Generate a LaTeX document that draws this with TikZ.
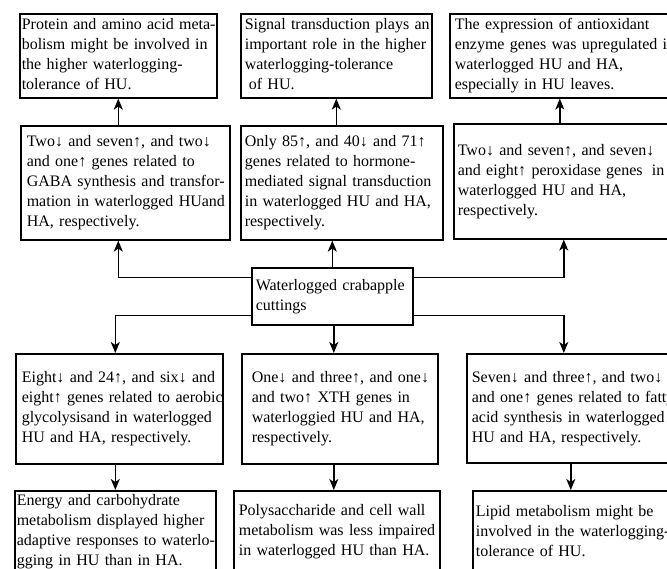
\documentclass[tikz,border=0pt]{standalone}
\usepackage{fontspec}
\setmainfont{Liberation Serif}
\usetikzlibrary{arrows.meta,calc}
\newcommand\tx[1]{\begin{tabular}{@{}l@{}}#1\end{tabular}}
\tikzset{
  bx/.style={draw, line width=1.6pt, rectangle, anchor=north west, align=left,
    inner ysep=0pt, font=\fontsize{16}{20}\selectfont},
  arr/.style={line width=1.4pt, -{Stealth[length=11pt,width=9pt,inset=3pt]}}
}
\begin{document}
\begin{tikzpicture}[x=1pt,y=-1pt]
\useasboundingbox (0,0) rectangle (667,569);
\clip (0,0) rectangle (667,569);
% top row
\node[bx, inner xsep=2pt, text width=193pt, minimum height=84pt] (box1) at (19,13)
  {\tx{Protein and amino acid meta-\\bolism might be involved in\\the higher waterlogging-\\tolerance of HU.}};
\node[bx, inner xsep=4pt, text width=183pt, minimum height=84pt] (box2) at (240,13)
  {\tx{Signal transduction plays an\\important role in the higher\\waterlogging-tolerance\\\hspace{4pt}of HU.}};
\node[bx, inner xsep=5pt, text width=210pt, minimum height=84pt] (box3) at (449,13)
  {\tx{The expression of antioxidant\\enzyme genes was upregulated in\\waterlogged HU and HA,\\especially in HU leaves.}};
% second row
\node[bx, inner xsep=6pt, text width=197pt, minimum height=114pt] (box4) at (20,125)
  {\tx{Two↓ and seven↑, and two↓\\and one↑ genes related to\\GABA synthesis and transfor-\\mation in waterlogged HUand\\HA, respectively.}};
\node[bx, inner xsep=4pt, text width=194pt, minimum height=114pt] (box5) at (240,125)
  {\tx{Only 85↑, and 40↓ and 71↑\\genes related to hormone-\\mediated signal transduction\\in waterlogged HU and HA,\\respectively.}};
\node[bx, inner xsep=4pt, text width=212pt, minimum height=115pt] (box6) at (453,123)
  {\tx{Two↓ and seven↑, and seven↓\\and eight↑ peroxidase genes\hspace{4pt} in\\waterlogged HU and HA,\\respectively.}};
% centre
\node[bx, inner xsep=4pt, text width=153pt, minimum height=57pt] (central) at (251,267)
  {\tx{Waterlogged crabapple\\cuttings}};
% third row
\node[bx, inner xsep=6pt, text width=195pt, minimum height=110pt] (box7) at (15,353)
  {\tx{Eight↓ and 24↑, and six↓ and\\eight↑ genes related to aerobic\\glycolysisand in waterlogged\\HU and HA, respectively.}};
\node[bx, inner xsep=10pt, text width=176pt, minimum height=110pt] (box8) at (241,353)
  {\tx{One↓ and three↑, and one↓\\and two↑ XTH genes in\\waterloggied HU and HA,\\respectively.}};
\node[bx, inner xsep=5pt, text width=210pt, minimum height=109pt] (box9) at (466,353)
  {\tx{Seven↓ and three↑, and two↓\\and one↑ genes related to fatty\\acid synthesis in waterlogged\\HU and HA, respectively.}};
% bottom row
\node[bx, inner xsep=2pt, text width=197pt, minimum height=82pt] (box10) at (14,490)
  {\tx{Energy and carbohydrate\\metabolism displayed higher\\adaptive responses to waterlo-\\gging in HU than in HA.}};
\node[bx, inner xsep=5pt, text width=196pt, minimum height=82pt] (box11) at (233,490)
  {\tx{Polysaccharide and cell wall\\metabolism was less impaired\\in waterlogged HU than HA.}};
\node[bx, inner xsep=3pt, text width=190pt, minimum height=84pt] (box12) at (472,490)
  {\tx{Lipid metabolism might be\\involved in the waterlogging-\\tolerance of HU.}};
% connectors
\draw[arr] (box4.north -| box1.south) -- (box1.south);
\draw[arr] (box5.north -| box2.south) -- (box2.south);
\draw[arr] (box6.north -| box3.south) -- (box3.south);
\draw[arr] (central.north) -- (central.north |- box5.south);
\draw[arr] ([yshift=19pt]central.west) -| (box4.south -| box1.south);
\draw[arr] ([yshift=19pt]central.east) -| (box6.south);
\draw[arr] ([yshift=-19pt]central.west) -| (box7.north -| box10.north);
\draw[arr] ([yshift=-19pt]central.east) -| ([xshift=-13pt]box9.north);
\draw[arr] ([xshift=1.5pt]central.south) -- ([xshift=1.5pt]central.south |- box8.north);
\draw[arr] ([xshift=1.5pt]box8.south -| central.south) -- ([xshift=1.5pt]box11.north -| central.south);
\draw[arr] (box7.south -| box10.north) -- (box10.north);
\draw[arr] (box9.south -| box12.north) -- (box12.north);
\end{tikzpicture}
\end{document}
